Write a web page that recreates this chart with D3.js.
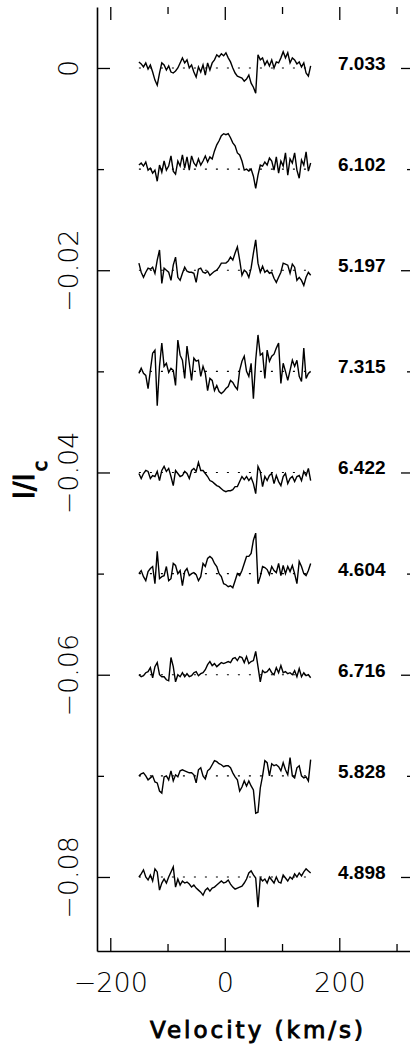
<!DOCTYPE html>
<html>
<head>
<meta charset="utf-8">
<script src="https://cdn.jsdelivr.net/npm/d3@7"></script>
<style>
  body { margin: 0; background: #fff; }
</style>
</head>
<body>
<div id="chart"></div>
<script>
// velocity grid of the profiles (km/s)
const velocity = [-150,-146,-142,-138,-134,-130,-126,-122,-118,-114,-110,-106,-102,-98,-94,-90,-86,-82,-78,-74,
  -70,-66,-62,-58,-54,-50,-46,-42,-38,-34,-30,-26,-22,-18,-14,-10,-6,-2,2,6,
  10,14,18,22,26,30,34,38,42,46,50,54,58,62,66,70,74,78,82,86,
  90,94,98,102,106,110,114,118,122,126,130,134,138,142,146,150];

// vertical shift of each profile and the number written next to it
const offsets = [0, -0.01, -0.02, -0.03, -0.04, -0.05, -0.06, -0.07, -0.08];
const labels = ["7.033", "6.102", "5.197", "7.315", "6.422", "4.604", "6.716", "5.828", "4.898"];

// profiles, deviation from the dotted line in units of 1e-4 I/Ic
const p7033 = [6,4,1,5,-1,3,-4,-12,-17,-5,5,3,-2,2,-4,-5,-3,0,5,10,5,8,0,3,-4,-9,1,-4,3,-7,5,-2,5,8,13,11,14,12,15,10,6,0,-5,-8,-9,-10,-13,-11,-7,-15,-19,-25,13,8,10,3,7,2,8,0,6,5,10,16,10,15,5,10,8,4,6,1,5,-5,-8,2];
const p6102 = [4,6,3,7,-1,1,-4,-1,-12,4,-3,8,-1,3,13,-2,-5,8,3,14,1,12,-1,13,6,3,10,4,8,13,7,12,10,18,24,28,33,35,34,35,31,26,23,16,14,8,-1,0,-2,0,-7,-19,-6,4,3,7,4,11,8,-1,12,-4,8,3,16,-6,10,6,16,-1,-9,9,4,17,-2,6];
const p5197 = [7,-2,-7,-2,2,1,3,-3,10,20,-13,2,0,-2,-10,5,13,-7,-10,-3,3,-1,-2,-2,-3,-12,1,2,-2,-3,-1,-5,-3,-1,0,3,7,7,7,9,13,10,17,23,10,-5,0,-2,-7,2,17,30,7,-2,4,-2,0,-3,-2,-8,-12,-7,-2,7,6,5,-3,6,3,-10,-7,-10,-15,-7,-2,-5];
const p7315 = [-2,3,-2,-4,-17,1,18,21,-34,5,28,5,8,-1,3,1,-14,31,16,11,-7,25,8,-9,13,10,11,-5,5,-2,-19,-7,-9,-19,-14,-20,-22,-20,-17,-15,-9,-11,-15,-18,1,10,15,0,-5,8,-27,11,36,16,18,-7,21,10,15,17,23,28,-12,8,0,-9,1,11,5,11,-5,-10,23,-7,-2,0];
const p6422 = [-1,-6,-1,2,1,-6,-3,-4,1,-8,2,6,1,4,-4,-13,2,-1,-4,-3,1,-1,-6,2,4,1,10,2,2,-1,-4,-8,-9,-11,-13,-14,-16,-18,-19,-18,-18,-17,-14,-14,-9,-4,-7,-4,-8,-5,-11,-21,6,1,-14,-4,-8,-3,-1,-11,-3,-9,-13,-4,-1,-11,-6,-4,-9,-4,-3,-8,1,-3,4,-8];
const p4604 = [0,3,-3,-7,2,5,7,-10,22,-5,-3,-2,7,-7,-5,10,8,0,3,-12,2,5,-2,0,1,-1,-7,-3,10,7,15,17,15,10,7,0,-3,-10,-11,-13,-12,-14,-7,0,-2,3,10,17,17,20,33,40,-10,-3,7,6,4,-1,7,3,1,10,-2,8,0,7,2,8,0,-10,12,7,0,-2,3,10];
const p6716 = [0,-2,-1,2,3,7,-3,8,12,0,-2,-2,-5,-6,17,8,-7,0,-2,2,-2,1,-2,-1,2,3,-1,1,2,5,10,13,9,11,8,10,12,11,12,13,12,16,17,14,18,17,12,18,11,13,14,23,8,-7,4,2,3,6,2,0,7,2,9,2,3,1,2,0,4,-2,6,-2,2,-1,0,-3];
const p5828 = [0,2,3,0,-4,-2,0,-6,-7,-15,-17,-1,0,-4,5,-5,1,-1,5,6,5,4,3,3,1,-7,6,8,0,-3,5,7,11,15,14,12,11,9,10,10,8,3,-1,-4,-15,-11,-5,-10,-5,-10,-14,-37,-36,-12,0,15,13,0,12,10,11,9,5,13,6,1,18,0,-2,8,10,0,-2,-1,-5,16];
const p4898 = [0,3,7,0,-3,2,-4,8,5,-13,-6,-2,-6,0,5,10,-10,-2,-8,-4,-6,-5,-7,-10,-8,-11,-13,-15,-18,-13,-11,-14,-11,-10,-8,-6,-4,-6,-5,-3,-7,-10,-12,-11,-10,-9,-6,-2,4,6,2,-1,-30,-1,-4,-2,-6,0,-3,-6,0,-5,-6,2,-1,-4,0,-2,3,0,4,1,5,8,6,4];
const profiles = [p7033, p6102, p5197, p7315, p6422, p4604, p6716, p5828, p4898];

// ticks
const xMajor = [-200, 0, 200];
const xMinor = [-100, 100, 300];
const yMajor = [0, -0.02, -0.04, -0.06, -0.08];
const yMinor = [-0.01, -0.03, -0.05, -0.07];

const width = 410, height = 1047;
const box = { left: 97, right: 414, top: 7, bottom: 951 };

const svg = d3.select("#chart")
  .append("svg")
  .attr("width", width)
  .attr("height", height);

// x: -200 -> 110.3 px, 200 -> 339.3 px
const x = d3.scaleLinear()
  .domain([-223.2, 330.5])
  .range([box.left, box.right]);

// y: 0 -> 68 px, -0.08 -> 877 px
const y = d3.scaleLinear()
  .domain([0.00603, -0.08732])
  .range([box.top, box.bottom]);

const tickFont = "'DejaVu Sans', sans-serif";
const fmtY = d => d === 0 ? "0" : d3.format(".2f")(d);

// bottom axis with labels
const bottom = svg.append("g")
  .attr("transform", `translate(0,${box.bottom})`)
  .call(d3.axisBottom(x).tickValues(xMajor).tickSize(-13).tickSizeOuter(0).tickPadding(22));
bottom.select(".domain").attr("stroke-width", 1.6);
bottom.selectAll("text")
  .style("font-family", tickFont)
  .style("font-weight", 200)
  .style("font-size", "27px")
  .attr("fill", "#000");

svg.append("g")
  .attr("transform", `translate(0,${box.bottom})`)
  .call(d3.axisBottom(x).tickValues(xMinor).tickSize(-7).tickSizeOuter(0).tickFormat(""))
  .select(".domain").remove();

// top ticks (the frame line itself is cut off in the picture)
svg.append("g")
  .attr("transform", `translate(0,${box.top})`)
  .call(d3.axisTop(x).tickValues(xMajor).tickSize(-13).tickFormat(""))
  .select(".domain").remove();
svg.append("g")
  .attr("transform", `translate(0,${box.top})`)
  .call(d3.axisTop(x).tickValues(xMinor).tickSize(-7).tickFormat(""))
  .select(".domain").remove();

// left axis, labels turned sideways
const left = svg.append("g")
  .attr("transform", `translate(${box.left},0)`)
  .call(d3.axisLeft(y).tickValues(yMajor).tickSize(-13).tickSizeOuter(0).tickFormat(fmtY));
left.select(".domain").attr("stroke-width", 1.6);
left.selectAll("text")
  .attr("transform", "rotate(-90)")
  .attr("x", 0)
  .attr("y", -19)
  .attr("dy", 0)
  .attr("text-anchor", "middle")
  .attr("fill", "#000")
  .style("font-family", tickFont)
  .style("font-weight", 200)
  .style("font-size", "27px");

svg.append("g")
  .attr("transform", `translate(${box.left},0)`)
  .call(d3.axisLeft(y).tickValues(yMinor).tickSize(-7).tickFormat(""))
  .select(".domain").remove();

// right ticks
svg.append("g")
  .attr("transform", `translate(${box.right},0)`)
  .call(d3.axisRight(y).tickValues(yMajor).tickSize(-13).tickFormat(""))
  .select(".domain").remove();
svg.append("g")
  .attr("transform", `translate(${box.right},0)`)
  .call(d3.axisRight(y).tickValues(yMinor).tickSize(-7).tickFormat(""))
  .select(".domain").remove();

svg.selectAll(".tick line").attr("stroke", "#000").attr("stroke-width", 1.3);

// dotted continuum lines
svg.selectAll("line.zero")
  .data(offsets)
  .join("line")
    .attr("class", "zero")
    .attr("x1", x(velocity[0]))
    .attr("x2", x(velocity[velocity.length - 1]))
    .attr("y1", d => y(d))
    .attr("y2", d => y(d))
    .attr("stroke", "#000")
    .attr("stroke-width", 1.2)
    .attr("stroke-dasharray", "2,9");

// the profiles
const line = d3.line()
  .x(d => x(d[0]))
  .y(d => y(d[1]));

svg.selectAll("path.profile")
  .data(profiles)
  .join("path")
    .attr("class", "profile")
    .attr("d", (p, i) => line(p.map((v, j) => [velocity[j], offsets[i] + v * 1e-4])))
    .attr("fill", "none")
    .attr("stroke", "#000")
    .attr("stroke-width", 1.4)
    .attr("stroke-linejoin", "miter");

// numbers at the right of each profile
svg.selectAll("text.label")
  .data(labels)
  .join("text")
    .attr("class", "label")
    .attr("x", 338)
    .attr("y", (d, i) => y(offsets[i]) + 2)
    .text(d => d)
    .style("font-family", "'Liberation Sans', Arial, sans-serif")
    .style("font-weight", "bold")
    .style("font-size", "19px");

// axis titles, normal weight with a stroke to get the heavy plotter look
svg.append("text")
  .attr("x", 150)
  .attr("y", 1038)
  .attr("textLength", 213)
  .attr("lengthAdjust", "spacing")
  .text("Velocity (km/s)")
  .attr("stroke", "#000")
  .attr("stroke-width", 0.9)
  .style("font-family", "'DejaVu Sans', sans-serif")
  .style("font-size", "23px");

const ytitle = svg.append("text")
  .attr("transform", "translate(34,480) rotate(-90)")
  .attr("text-anchor", "middle")
  .attr("stroke", "#000")
  .attr("stroke-width", 1)
  .style("font-family", "'DejaVu Sans', sans-serif")
  .style("font-size", "28px");
ytitle.append("tspan").text("I/I");
ytitle.append("tspan")
  .attr("dy", 13)
  .attr("dx", 2)
  .style("font-size", "19px")
  .text("c");
</script>
</body>
</html>
